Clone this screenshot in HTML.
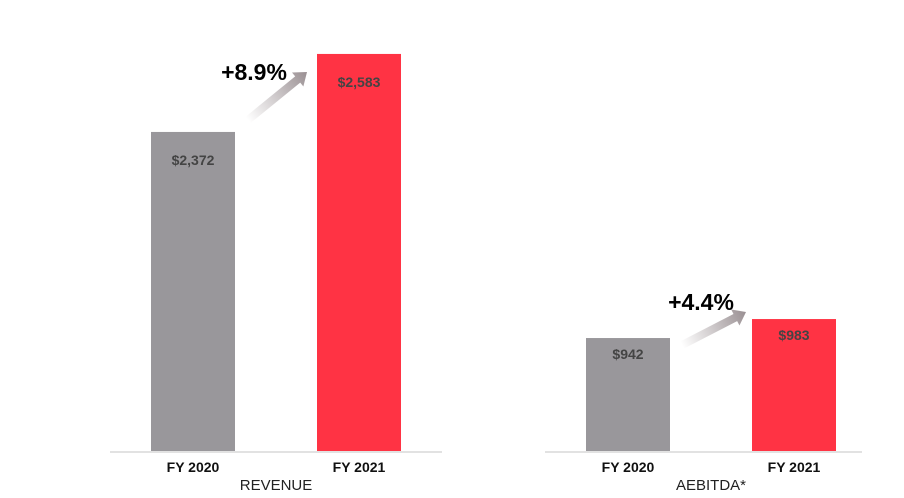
<!DOCTYPE html>
<html><head><meta charset="utf-8"><style>
body{margin:0;background:#fff;}
svg{display:block;font-family:"Liberation Sans",sans-serif;}
</style></head><body>
<svg width="904" height="498" viewBox="0 0 904 498">
<defs>
<linearGradient id="ag" x1="0" y1="0" x2="1" y2="0">
<stop offset="0" stop-color="#fff"/><stop offset="1" stop-color="#9a9093"/>
</linearGradient>
</defs>
<g id="root"></g>
</svg>
<script>
const categories = ["FY 2020","FY 2021"];
const revenueValues = [2372, 2583];
const aebitdaValues = [942, 983];
const revenueLabels = ["$2,372","$2,583"];
const aebitdaLabels = ["$942","$983"];
const growthLabels = ["+8.9%","+4.4%"];
const panelTitles = ["REVENUE","AEBITDA*"];

const NS="http://www.w3.org/2000/svg";
const root=document.getElementById('root');
function mk(tag,attrs,parent){const e=document.createElementNS(NS,tag);for(const k in attrs)e.setAttribute(k,attrs[k]);(parent||root).appendChild(e);return e;}
const base=451;
const colors=["#99979b","#ff3344"];
const panels=[
 {vals:revenueValues,labels:revenueLabels,x0:110,x1:442,bx:[151,317],zero:1509,k:0.3697,title:panelTitles[0],growth:growthLabels[0],name:'revenue',a:[97,-12,-10,18],gx:254,gy:80,lo:33},
 {vals:aebitdaValues,labels:aebitdaLabels,x0:545,x1:862,bx:[586,752],zero:698,k:0.463,title:panelTitles[1],growth:growthLabels[1],name:'aebitda',a:[96,7,-6,-7],gx:701,gy:310,lo:21}
];
panels.forEach(p=>{
  const y=v=>base-(v-p.zero)*p.k;
  const ax=mk('line',{x1:p.x0,x2:p.x1,y1:base+1,y2:base+1,stroke:'#d9d9d9','stroke-width':1.5});
  
  
  p.vals.forEach((v,i)=>{
    const r=mk('rect',{x:p.bx[i],y:y(v),width:84,height:base-y(v),fill:colors[i]});
    
    
    const t=mk('text',{x:p.bx[i]+42,y:y(v)+p.lo,'text-anchor':'middle','font-size':14,'font-weight':'bold',fill:'#444'});
    t.textContent=p.labels[i];
    
    
    const c=mk('text',{x:p.bx[i]+42,y:472,'text-anchor':'middle','font-size':14,'font-weight':'bold',fill:'#111'});
    c.textContent=categories[i];
    
    
  });
  const ttl=mk('text',{x:(p.bx[0]+p.bx[1]+84)/2,y:490,'text-anchor':'middle','font-size':15,fill:'#222'});
  ttl.textContent=p.title;
  
  
  const y0=y(p.vals[0]), y1=y(p.vals[1]);
  const sx=p.bx[0]+p.a[0], sy=y0+p.a[1], ex=p.bx[1]+p.a[2], ey=y1+p.a[3];
  const ang=Math.atan2(ey-sy,ex-sx), L=Math.hypot(ex-sx,ey-sy);
  const g=mk('g',{transform:`translate(${sx},${sy}) rotate(${ang*180/Math.PI})`});
  
  
  mk('polygon',{points:`0,-4 ${L-12},-4 ${L-12},-9 ${L},0 ${L-12},9 ${L-12},4 0,4`,fill:'url(#ag)'},g);
  const gt=mk('text',{x:p.gx,y:p.gy,'text-anchor':'middle','font-size':23,'font-weight':'bold',fill:'#000'});
  gt.textContent=p.growth;
  
  
});
</script>
</body></html>
